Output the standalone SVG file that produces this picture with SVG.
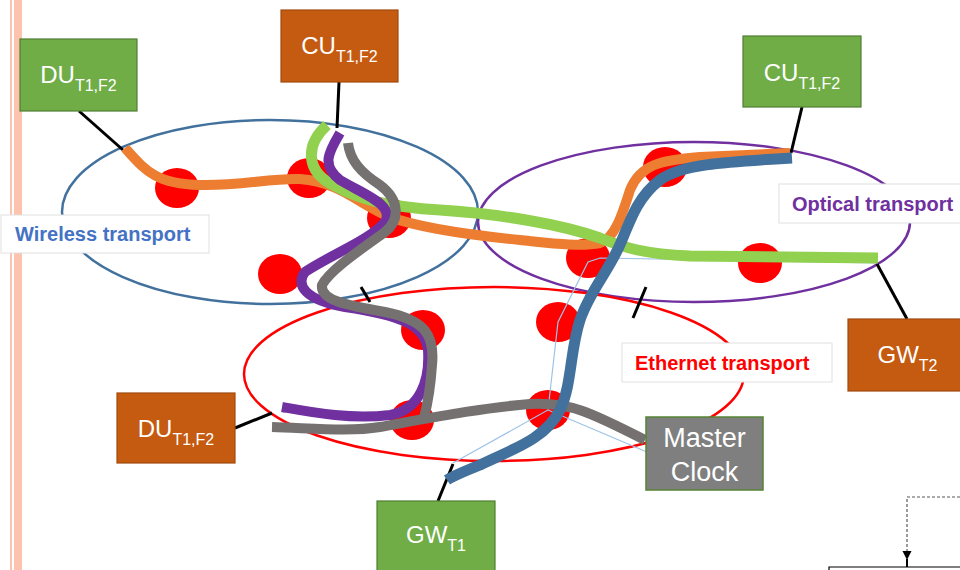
<svg xmlns="http://www.w3.org/2000/svg" width="960" height="570" viewBox="0 0 960 570">
  <style>
    .zone { fill: none; stroke-width: 2.5; }
    .node-dot { fill: #FF0000; }
    .route { fill: none; stroke-linecap: butt; stroke-linejoin: round; }
    .link { stroke: #000000; stroke-width: 3; }
    .tick { stroke: #000000; stroke-width: 3; }
    .green-box { fill: #70AD47; stroke: #507E32; stroke-width: 1.2; }
    .orange-box { fill: #C55A11; stroke: #A04A10; stroke-width: 1.2; }
    .clock-box { fill: #7F7F7F; stroke: #548235; stroke-width: 1.5; }
    .box-text { font-family: "Liberation Sans", Arial, sans-serif; font-size: 24px; fill: #FFFFFF; text-anchor: middle; }
    .label-box { fill: #FFFFFF; stroke: #E0E0E0; stroke-width: 1; }
    .label-text { font-family: "Liberation Sans", Arial, sans-serif; font-size: 20px; font-weight: bold; }
  </style>
  <defs>
    <marker id="arrow-head" markerWidth="10" markerHeight="10" refX="9" refY="4.5" orient="auto" markerUnits="userSpaceOnUse">
      <path d="M0,0 L9,4.5 L0,9 Z" fill="#000000"/>
    </marker>
  </defs>

  <rect width="960" height="570" fill="#FFFFFF"/>

  <!-- page margin rules -->
  <rect x="10" y="0" width="2" height="570" fill="#FCC3AE"/>
  <rect x="14" y="0" width="8" height="570" fill="#FCC3AE"/>

  <!-- transport domains -->
  <g id="domains">
    <ellipse class="zone" cx="270" cy="212" rx="208" ry="92" stroke="#41719C"/>
    <ellipse class="zone" cx="694" cy="222" rx="216" ry="80" stroke="#7030A0"/>
    <ellipse class="zone" cx="494" cy="374" rx="250" ry="87" stroke="#FF0000"/>
  </g>

  <!-- network elements -->
  <g id="network-nodes">
    <ellipse class="node-dot" cx="177" cy="188" rx="22" ry="20"/>
    <ellipse class="node-dot" cx="309" cy="178" rx="22" ry="20"/>
    <ellipse class="node-dot" cx="389" cy="218" rx="22" ry="20"/>
    <ellipse class="node-dot" cx="280" cy="274" rx="22" ry="20"/>
    <ellipse class="node-dot" cx="423" cy="330" rx="22" ry="20"/>
    <ellipse class="node-dot" cx="665" cy="167" rx="22" ry="20"/>
    <ellipse class="node-dot" cx="588" cy="258" rx="22" ry="20"/>
    <ellipse class="node-dot" cx="760" cy="263" rx="22" ry="20"/>
    <ellipse class="node-dot" cx="558" cy="322" rx="22" ry="20"/>
    <ellipse class="node-dot" cx="548" cy="410" rx="22" ry="20"/>
    <ellipse class="node-dot" cx="412" cy="420" rx="22" ry="20"/>
  </g>

  <!-- connectors: attachment links, boundary ticks and routed paths -->
  <g id="connectors">
    <line class="link" x1="79" y1="111" x2="123" y2="150"/>
    <line class="link" x1="339" y1="82" x2="337" y2="128"/>
    <line class="link" x1="802" y1="107" x2="791" y2="153"/>
    <line class="link" x1="907" y1="319" x2="877" y2="264"/>
    <line class="link" x1="235" y1="428" x2="272" y2="413"/>
    <line class="link" x1="438" y1="501" x2="453" y2="464"/>

    <line class="tick" x1="361" y1="287" x2="370" y2="302"/>
    <line class="tick" x1="646" y1="287" x2="633" y2="318"/>

    <!-- thin sync reference lines -->
    <path d="M453,463 L548,410 L558,322 L588,262 L600,258 L876,263 M548,410 L647,452" fill="none" stroke="#9DC3E6" stroke-width="1.2"/>

    <path class="route" stroke="#ED7D31" stroke-width="10" d="M125,148 C145,170 155,184 200,185 C240,186 270,178 300,179 C340,182 360,205 390,217 C420,228 470,235 520,240 C550,243 580,247 600,243 C615,238 622,215 630,190 C640,165 660,160 700,157 L790,153"/>
    <path class="route" stroke="#92D050" stroke-width="11" d="M327,125 C305,145 305,172 335,186 C360,200 390,207 440,210 C500,214 560,224 600,238 C625,248 645,254 690,256 L878,258"/>
    <path class="route" stroke="#7030A0" stroke-width="10" d="M340,133 C330,150 320,165 340,180 C365,195 395,205 385,222 C370,240 330,255 305,272 C295,285 305,300 345,307 C400,315 425,325 428,350 C430,380 420,410 390,415 C350,420 310,412 282,407"/>
    <path class="route" stroke="#767171" stroke-width="10" d="M348,143 C350,160 360,172 380,185 C400,200 400,220 385,232 C360,250 330,270 322,285 C320,300 345,305 385,312 C425,320 435,335 432,365 C430,395 426,410 424,418"/>
    <path class="route" stroke="#767171" stroke-width="10" d="M272,427 C310,428 350,432 380,427 C430,418 480,408 530,404 C570,402 590,412 645,440"/>
    <path class="route" stroke="#41719C" stroke-width="11" d="M792,158 C720,162 680,165 660,180 C640,195 632,215 622,240 C610,270 590,290 580,320 C570,350 572,385 560,410 C545,440 510,450 480,465 C460,473 450,478 447,480"/>

    <!-- off-page flow indicator -->
    <path d="M960,497 L907,497 L907,560" fill="none" stroke="#595959" stroke-width="1.2" stroke-dasharray="3,2" marker-end="url(#arrow-head)"/>
    <line x1="907" y1="559" x2="907" y2="567" stroke="#000000" stroke-width="2"/>
    <path d="M829,570 L829,567 L960,567" fill="none" stroke="#000000" stroke-width="1.2"/>
  </g>

  <!-- domain labels -->
  <g id="label-wireless">
    <rect class="label-box" x="1" y="215" width="208" height="38"/>
    <text class="label-text" x="15" y="241" fill="#4472C4">Wireless transport</text>
  </g>
  <g id="label-optical">
    <rect class="label-box" x="779" y="184" width="190" height="39"/>
    <text class="label-text" x="792" y="211" fill="#7030A0">Optical transport</text>
  </g>
  <g id="label-ethernet">
    <rect class="label-box" x="622" y="343" width="210" height="39"/>
    <text class="label-text" x="635" y="370" fill="#FF0000">Ethernet transport</text>
  </g>

  <!-- end points -->
  <g id="du-wireless">
    <rect class="green-box" x="20" y="39" width="117" height="72"/>
    <text class="box-text" x="78.5" y="83">DU<tspan font-size="16" dy="8">T1,F2</tspan></text>
  </g>
  <g id="cu-wireless">
    <rect class="orange-box" x="281" y="10" width="117" height="72"/>
    <text class="box-text" x="339.5" y="54">CU<tspan font-size="16" dy="8">T1,F2</tspan></text>
  </g>
  <g id="cu-optical">
    <rect class="green-box" x="743" y="36" width="118" height="71"/>
    <text class="box-text" x="802" y="81">CU<tspan font-size="16" dy="8">T1,F2</tspan></text>
  </g>
  <g id="gw-t2">
    <rect class="orange-box" x="848" y="319" width="119" height="72"/>
    <text class="box-text" x="907.5" y="363">GW<tspan font-size="16" dy="8">T2</tspan></text>
  </g>
  <g id="du-ethernet">
    <rect class="orange-box" x="117" y="393" width="118" height="70"/>
    <text class="box-text" x="176" y="437">DU<tspan font-size="16" dy="8">T1,F2</tspan></text>
  </g>
  <g id="master-clock">
    <rect class="clock-box" x="646" y="417" width="117" height="73"/>
    <text class="box-text" x="704.5" y="447" style="font-size:27px">Master</text>
    <text class="box-text" x="704.5" y="481" style="font-size:27px">Clock</text>
  </g>
  <g id="gw-t1">
    <rect class="green-box" x="377" y="501" width="118" height="75"/>
    <text class="box-text" x="436" y="543">GW<tspan font-size="16" dy="8">T1</tspan></text>
  </g>
</svg>
